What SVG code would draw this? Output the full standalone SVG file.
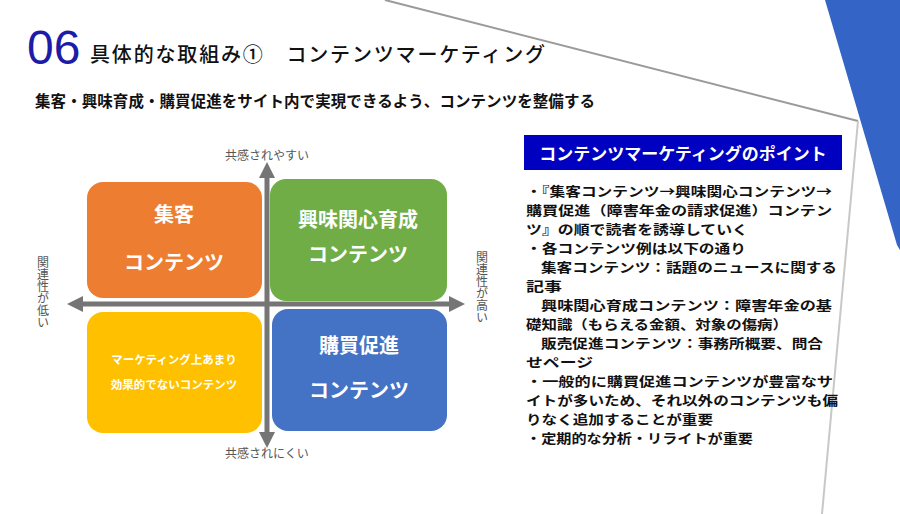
<svg xmlns="http://www.w3.org/2000/svg" width="900" height="514" viewBox="0 0 900 514">
<style>
.ax{font-family:"Noto Sans CJK JP",sans-serif;font-size:12px;fill:#555}
.bx{font-family:"Noto Sans CJK JP",sans-serif;font-weight:bold;fill:#fff;text-anchor:middle}
.body{font-family:"Noto Sans CJK JP",sans-serif;font-size:13px;font-weight:bold;fill:#111}
</style>
<defs>
<marker id="ah" viewBox="0 0 10 10" refX="5" refY="5" markerWidth="3.2" markerHeight="3.2" orient="auto-start-reverse"><path d="M0,0L10,5L0,10z" fill="#757575"/></marker>
</defs>
<rect width="900" height="514" fill="#fff"/>
<g id="bg">
<polygon points="825,0 900,0 900,250 897,245" fill="#3465c6"/>
<line x1="385" y1="0" x2="858" y2="121" stroke="#9a9a9a" stroke-width="2"/>
<line x1="858" y1="121" x2="822" y2="514" stroke="#c8c8c8" stroke-width="2"/>
</g>
<g id="title">
<text x="27" y="64" font-family="Liberation Sans,sans-serif" font-size="48" fill="#1c1ca8">06</text>
<text x="90" y="62" font-family="Noto Sans CJK JP,sans-serif" font-size="20" font-weight="500" fill="#111" textLength="455">具体的な取組み①　コンテンツマーケティング</text>
<text x="35" y="107" font-family="Noto Sans CJK JP,sans-serif" font-size="15.5" font-weight="bold" fill="#111" textLength="560">集客・興味育成・購買促進をサイト内で実現できるよう、コンテンツを整備する</text>
</g>
<g id="connectors" stroke="#757575" stroke-width="5">
<line x1="267" y1="440" x2="267" y2="170" marker-start="url(#ah)" marker-end="url(#ah)"/>
<line x1="75" y1="304" x2="457" y2="304" marker-start="url(#ah)" marker-end="url(#ah)"/>
</g>
<g id="n1"><rect x="87" y="182" width="175" height="116" rx="16" fill="#ed7d31"/>
<text x="174" y="222" class="bx" font-size="20">集客</text><text x="174" y="270" class="bx" font-size="20">コンテンツ</text></g>
<g id="n2"><rect x="270" y="179" width="177" height="122" rx="16" fill="#70ad47"/>
<text x="358" y="227" class="bx" font-size="20">興味関心育成</text><text x="358" y="262" class="bx" font-size="20">コンテンツ</text></g>
<g id="n3"><rect x="87" y="312" width="175" height="121" rx="16" fill="#ffc000"/>
<text x="174" y="364" class="bx" font-size="11.5">マーケティング上あまり</text><text x="174" y="389" class="bx" font-size="11.5">効果的でないコンテンツ</text></g>
<g id="n4"><rect x="272" y="309" width="175" height="122" rx="16" fill="#4472c4"/>
<text x="359" y="353" class="bx" font-size="20">購買促進</text><text x="359" y="398" class="bx" font-size="20">コンテンツ</text></g>
<g id="axlabels">
<text x="267" y="160" class="ax" text-anchor="middle">共感されやすい</text>
<text x="267" y="458" class="ax" text-anchor="middle">共感されにくい</text>
<text x="43" y="256" class="ax" style="writing-mode:vertical-rl" text-anchor="start">関連性が低い</text>
<text x="482" y="251" class="ax" style="writing-mode:vertical-rl" text-anchor="start">関連性が高い</text>
</g>
<g id="panel">
<rect x="524" y="135" width="318" height="35" fill="#0000c0"/>
<text x="683" y="160" class="bx" font-size="17">コンテンツマーケティングのポイント</text>
<g class="body" lengthAdjust="spacingAndGlyphs">
<text x="526" y="196" textLength="306" lengthAdjust="spacingAndGlyphs">・『集客コンテンツ→興味関心コンテンツ→</text>
<text x="526" y="215" textLength="306" lengthAdjust="spacingAndGlyphs">購買促進（障害年金の請求促進）コンテン</text>
<text x="526" y="234" textLength="222" lengthAdjust="spacingAndGlyphs">ツ』の順で読者を誘導していく</text>
<text x="526" y="253" textLength="220" lengthAdjust="spacingAndGlyphs">・各コンテンツ例は以下の通り</text>
<text x="541" y="272" textLength="296" lengthAdjust="spacingAndGlyphs">集客コンテンツ：話題のニュースに関する</text>
<text x="526" y="291" textLength="36" lengthAdjust="spacingAndGlyphs">記事</text>
<text x="541" y="310" textLength="291" lengthAdjust="spacingAndGlyphs">興味関心育成コンテンツ：障害年金の基</text>
<text x="526" y="329" textLength="262" lengthAdjust="spacingAndGlyphs">礎知識（もらえる金額、対象の傷病）</text>
<text x="541" y="348" textLength="282" lengthAdjust="spacingAndGlyphs">販売促進コンテンツ：事務所概要、問合</text>
<text x="526" y="367" textLength="67" lengthAdjust="spacingAndGlyphs">せページ</text>
<text x="526" y="386" textLength="307" lengthAdjust="spacingAndGlyphs">・一般的に購買促進コンテンツが豊富なサ</text>
<text x="526" y="405" textLength="312" lengthAdjust="spacingAndGlyphs">イトが多いため、それ以外のコンテンツも偏</text>
<text x="526" y="424" textLength="187" lengthAdjust="spacingAndGlyphs">りなく追加することが重要</text>
<text x="526" y="443" textLength="227" lengthAdjust="spacingAndGlyphs">・定期的な分析・リライトが重要</text>
</g>
</g>
</svg>
